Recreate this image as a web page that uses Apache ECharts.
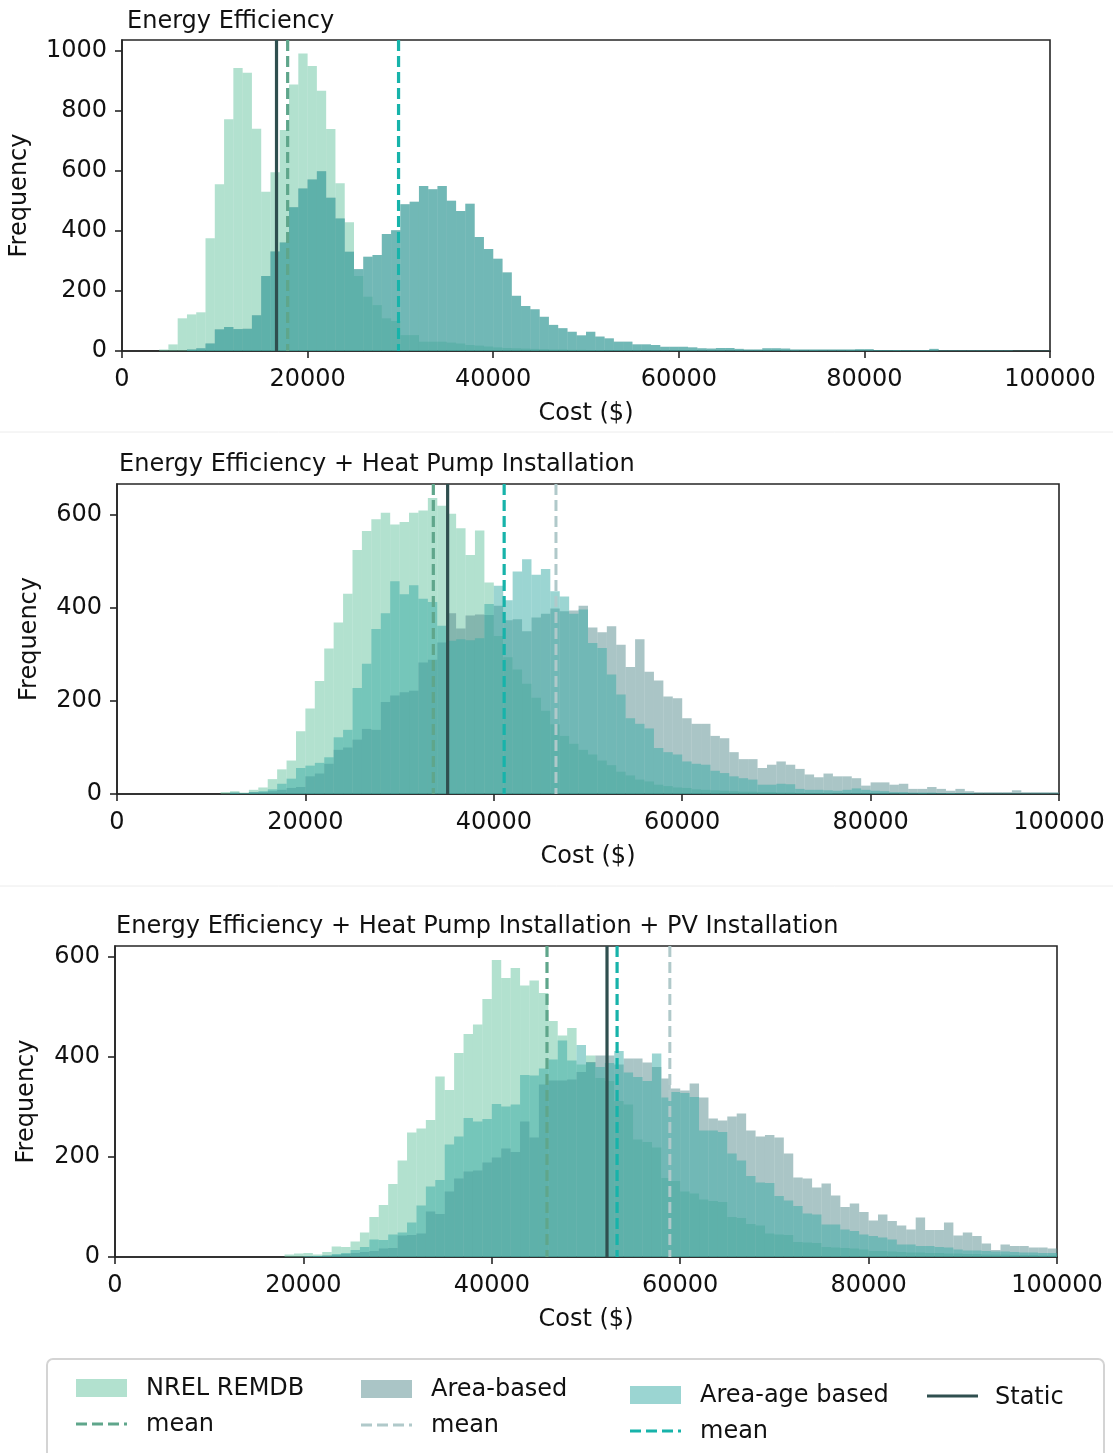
<!DOCTYPE html>
<html>
<head>
<meta charset="utf-8">
<script src="https://cdn.jsdelivr.net/npm/echarts@6/dist/echarts.min.js"></script>
<style>
html,body{margin:0;padding:0;background:#fff;}
#chart{width:1113px;height:1453px;}
</style>
</head>
<body>
<div id="chart"></div>
<script>
// ---------------- DATA ----------------
const panelTitles = [
  'Energy Efficiency',
  'Energy Efficiency + Heat Pump Installation',
  'Energy Efficiency + Heat Pump Installation + PV Installation'
];
const xTickValues = [0, 20000, 40000, 60000, 80000, 100000];
const yTickValues1 = [0, 200, 400, 600, 800, 1000];
const yTickValues2 = [0, 200, 400, 600];
const yTickValues3 = [0, 200, 400, 600];
const BIN_WIDTH = 1000;
const binStarts = Array.from({length: 100}, (_, i) => i * BIN_WIDTH);

// Panel 1: Energy Efficiency (frequency per $1000 bin, 0..100000)
const nrel1 = [0,0,0,0,5,22,109,122,129,376, 556,773,944,928,741,531,596,737,889,992,
  950,868,740,559,429,250,181,153,109,100, 53,53,31,31,31,28,25,20,18,15,
  12,10,9,8,7,6,5,5,4,4, 3,3,2,2,2,2,1,1,1,1,
  1,1,0,1,1,0,1,0,0,1, 0,1,0,0,1,0,0,0,1,0, 0,0,0,1,0,0,0,0,0,0, 0,0,0,0,0,0,0,0,0,0];
const areaBased1 = [0,0,0,0,0,0,0,5,9,25, 72,80,73,74,119,250,332,362,479,542,
  572,599,511,442,331,273,314,320,390,403, 489,498,550,539,550,501,467,491,380,340,
  308,262,184,150,139,114,87,76,64,52, 64,48,42,31,31,22,22,20,14,14,
  14,12,9,8,10,10,7,5,5,9, 9,8,5,5,5,5,5,5,5,6, 6,3,3,3,3,3,3,7,2,2, 2,2,2,2,2,2,1,1,1,1];
const areaAge1 = [0,0,0,0,0,0,0,5,9,25, 72,80,73,74,119,250,332,362,479,542,
  572,599,511,442,331,273,314,320,390,403, 489,498,550,539,550,501,467,491,380,340,
  308,262,184,150,139,114,87,76,64,52, 64,48,42,31,31,22,22,20,14,14,
  14,12,9,8,10,10,7,5,5,9, 9,8,5,5,5,5,5,5,5,6, 6,3,3,3,3,3,3,7,2,2, 2,2,2,2,2,2,1,1,1,1];

// Panel 2: + Heat Pump Installation
const nrel2 = [0,0,0,0,0,0,0,0,0,0, 0,4,6,3,9,14,32,53,72,135,
  184,243,313,369,431,525,566,591,605,580, 585,605,610,637,620,603,572,514,567,455,
  340,294,268,237,207,179,150,125,108,95, 85,72,62,48,40,31,27,20,17,14,
  13,10,9,8,7,6,5,5,4,4, 3,3,2,2,2,2,1,1,1,1, 1,1,0,1,0,1,0,0,1,0, 0,0,0,0,0,0,0,0,0,0];
const areaBased2 = [0,0,0,0,0,0,0,0,0,0, 0,0,3,2,4,4,6,9,13,15,
  38,44,65,95,100,117,140,138,198,212, 219,222,283,289,326,389,356,384,386,385,
  405,374,376,350,380,388,399,393,395,405, 358,348,361,321,273,333,263,244,210,206,
  163,151,151,125,120,90,75,75,56,63, 70,63,54,42,36,44,38,38,34,18,
  25,25,20,22,11,11,15,11,7,11, 6,4,4,4,4,8,4,4,4,4];
const areaAge2 = [0,0,0,0,0,0,0,0,0,0, 0,0,3,1,4,6,10,22,33,56,
  61,67,79,122,138,228,280,355,389,458, 430,449,420,413,362,330,333,331,335,409,
  448,417,479,505,472,484,436,425,388,397, 325,314,257,214,163,151,141,99,90,85,
  70,65,63,50,45,38,34,31,20,20, 22,21,11,9,9,8,7,9,12,9,
  7,6,4,4,3,3,3,2,2,2, 2,1,1,1,1,1,1,1,1,1];

// Panel 3: + Heat Pump Installation + PV Installation
const nrel3 = [0,0,0,0,0,0,0,0,0,0, 0,0,0,0,0,0,0,0,5,7,
  8,5,10,21,20,31,49,80,104,146, 193,249,257,274,361,334,408,446,465,516,
  594,558,578,543,553,528,472,443,458,385, 403,358,352,312,305,235,230,219,158,152,
  131,127,115,112,110,80,78,66,63,47, 45,44,30,29,28,20,19,18,17,15,
  12,12,11,10,9,9,8,8,7,7, 6,6,5,5,5,4,4,4,3,3];
const areaBased3 = [0,0,0,0,0,0,0,0,0,0, 0,0,0,0,0,0,0,0,0,0,
  2,2,3,4,6,8,10,12,17,18, 43,44,47,91,86,131,157,171,173,189,
  199,217,210,271,239,345,353,353,355,370, 390,403,403,385,397,397,389,380,357,337,
  333,347,319,277,273,281,287,253,241,244, 239,207,159,157,139,147,123,100,107,90,
  73,85,72,63,55,79,54,54,69,43, 49,42,27,14,25,22,22,19,19,17];
const areaAge3 = [0,0,0,0,0,0,0,0,0,0, 0,0,0,0,0,0,0,0,0,0,
  1,2,3,6,8,14,20,35,34,45, 49,69,103,141,154,225,241,278,271,276,
  306,301,305,364,363,377,395,433,393,424, 389,380,388,412,369,360,352,407,319,330,
  328,320,253,253,250,207,193,162,149,148, 122,113,102,87,85,65,65,55,52,45,
  42,39,35,25,25,22,22,20,19,15, 13,13,12,11,11,10,9,9,8,8];

// Mean / static reference values per panel
const nrelMeans = [17850, 33580, 45860];
const areaBasedMeans = [29800, 46600, 58900];
const areaAgeMeans = [29800, 41100, 53300];
const staticValues = [16650, 35100, 52230];
const yMaxes = [1037, 667, 622];

// ---------------- STYLE ----------------
const FONT = 'DejaVu Sans';
const C_NREL = 'rgba(102,196,160,0.5)';
const C_AREA = 'rgba(85,140,142,0.5)';
const C_AGE = 'rgba(56,172,165,0.5)';
const C_NREL_MEAN = '#5fa68b';
const C_AREA_MEAN = '#b0c9ca';
const C_AGE_MEAN = '#17b3aa';
const C_STATIC = '#2f4f4f';
const FRAME = '#262626';

const grids = [
  {left: 122, top: 40, width: 928, height: 311},
  {left: 117, top: 484, width: 942, height: 310},
  {left: 115, top: 946, width: 942, height: 311}
];
const yNameGaps = [90, 75, 76];
const yTickSets = [yTickValues1, yTickValues2, yTickValues3];

function histSeries(idx, values, color) {
  return {
    type: 'custom', xAxisIndex: idx, yAxisIndex: idx,
    silent: true, animation: false,
    data: values.map((v, i) => [binStarts[i], v]),
    encode: {x: 0, y: 1},
    renderItem: function (params, api) {
      const x0 = api.value(0), v = api.value(1);
      if (!v) return null;
      const p0 = api.coord([x0, 0]);
      const p1 = api.coord([x0 + BIN_WIDTH, v]);
      return {
        type: 'rect',
        shape: {x: p0[0], y: p1[1], width: p1[0] - p0[0], height: p0[1] - p1[1]},
        style: {fill: color}
      };
    }
  };
}
function vlineSeries(idx, value, color, width, dashed) {
  return {
    type: 'custom', xAxisIndex: idx, yAxisIndex: idx,
    silent: true, animation: false,
    data: [[value, 0]],
    encode: {x: 0, y: 1},
    renderItem: function (params, api) {
      const cs = params.coordSys;
      const px = api.coord([api.value(0), 0])[0];
      return {
        type: 'line',
        shape: {x1: px, y1: cs.y, x2: px, y2: cs.y + cs.height},
        style: {stroke: color, lineWidth: width, lineDash: dashed ? [11, 5] : null}
      };
    }
  };
}

const xAxes = [], yAxes = [], series = [], titles = [];
const titlePos = [{left: 127, top: 10}, {left: 119, top: 453}, {left: 116, top: 915}];
const nrelSets = [nrel1, nrel2, nrel3];
const areaSets = [areaBased1, areaBased2, areaBased3];
const ageSets = [areaAge1, areaAge2, areaAge3];

for (let i = 0; i < 3; i++) {
  titles.push({
    text: panelTitles[i], left: titlePos[i].left, top: titlePos[i].top, padding: 0,
    textStyle: {fontFamily: FONT, fontSize: 24, fontWeight: 'normal', color: '#111'}
  });
  xAxes.push({
    type: 'value', gridIndex: i, min: 0, max: 100000, interval: 20000,
    name: 'Cost ($)', nameLocation: 'middle', nameGap: 51,
    nameTextStyle: {fontFamily: FONT, fontSize: 24, color: '#111'},
    axisLine: {show: true, lineStyle: {color: FRAME, width: 1.6}},
    axisTick: {show: true, length: 7, lineStyle: {color: FRAME, width: 1.6}, customValues: xTickValues},
    axisLabel: {fontFamily: FONT, fontSize: 24, color: '#111', margin: 17, customValues: xTickValues,
      formatter: v => String(v)},
    splitLine: {show: false}
  });
  yAxes.push({
    type: 'value', gridIndex: i, min: 0, max: yMaxes[i], interval: 200,
    name: 'Frequency', nameLocation: 'middle', nameGap: yNameGaps[i], nameRotate: 90,
    nameTextStyle: {fontFamily: FONT, fontSize: 24, color: '#111'},
    axisLine: {show: true, lineStyle: {color: FRAME, width: 1.6}},
    axisTick: {show: true, length: 7, lineStyle: {color: FRAME, width: 1.6}, customValues: yTickSets[i]},
    axisLabel: {fontFamily: FONT, fontSize: 24, color: '#111', margin: 15, customValues: yTickSets[i],
      formatter: v => String(v)},
    splitLine: {show: false}
  });
  series.push(histSeries(i, nrelSets[i], C_NREL));
  series.push(histSeries(i, areaSets[i], C_AREA));
  series.push(histSeries(i, ageSets[i], C_AGE));
  series.push(vlineSeries(i, areaBasedMeans[i], C_AREA_MEAN, 3, true));
  series.push(vlineSeries(i, nrelMeans[i], C_NREL_MEAN, 3.2, true));
  series.push(vlineSeries(i, areaAgeMeans[i], C_AGE_MEAN, 3.2, true));
  series.push(vlineSeries(i, staticValues[i], C_STATIC, 3.2, false));
}

const gridOpts = grids.map(g => Object.assign({show: true, borderColor: FRAME, borderWidth: 1.6,
  backgroundColor: 'transparent', containLabel: false}, g));

// Legend (drawn as graphic elements)
const legendItems = [];
function patch(x, y, color) {
  legendItems.push({type: 'rect', shape: {x: x, y: y, width: 51, height: 18}, style: {fill: color}});
}
function dline(x, y, color, dash, w) {
  legendItems.push({type: 'line', shape: {x1: x, y1: y, x2: x + 51, y2: y},
    style: {stroke: color, lineWidth: w || 3.2, lineDash: dash ? [11, 5] : null}});
}
function ltext(x, y, t) {
  legendItems.push({type: 'text', x: x, y: y, style: {text: t, fontFamily: FONT, fontSize: 24,
    fill: '#111', textVerticalAlign: 'middle', verticalAlign: 'middle'}});
}
legendItems.push({type: 'rect', shape: {x: 47, y: 1359, width: 1057, height: 130, r: 6},
  style: {fill: '#fff', stroke: '#d4d4d4', lineWidth: 2}});
patch(76, 1379, C_NREL); ltext(146, 1389, 'NREL REMDB');
dline(76, 1424, C_NREL_MEAN, true); ltext(146, 1425, 'mean');
patch(361, 1380, C_AREA); ltext(431, 1390, 'Area-based');
dline(361, 1425, C_AREA_MEAN, true, 3); ltext(431, 1426, 'mean');
patch(630, 1386, C_AGE); ltext(700, 1396, 'Area-age based');
dline(630, 1431, C_AGE_MEAN, true); ltext(700, 1432, 'mean');
dline(927, 1396, C_STATIC, false); ltext(995, 1398, 'Static');

// faint separators between panels
legendItems.push({type: 'line', shape: {x1: 0, y1: 432, x2: 1113, y2: 432}, style: {stroke: '#ececec', lineWidth: 1}});
legendItems.push({type: 'line', shape: {x1: 0, y1: 886, x2: 1113, y2: 886}, style: {stroke: '#ececec', lineWidth: 1}});

const chart = echarts.init(document.getElementById('chart'), null, {renderer: 'canvas'});
chart.setOption({
  animation: false,
  backgroundColor: '#fff',
  title: titles,
  grid: gridOpts,
  xAxis: xAxes,
  yAxis: yAxes,
  series: series,
  graphic: {elements: legendItems}
});
</script>
</body>
</html>
